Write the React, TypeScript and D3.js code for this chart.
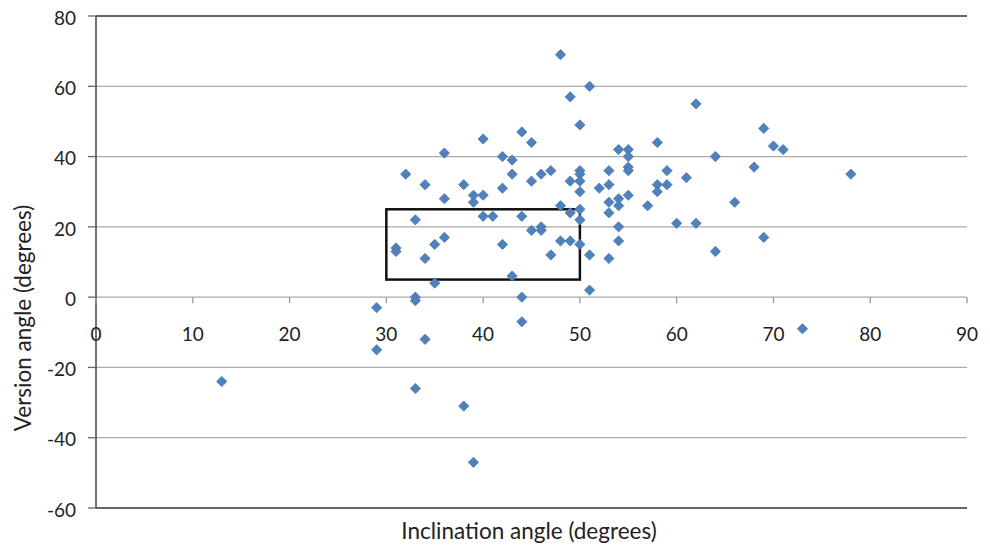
import React, { useEffect, useRef } from "react";
import * as d3 from "d3";

// inclination (x) / version (y) pairs, degrees
const inclination = [
  13, 29, 29, 31, 31, 32, 33, 33, 33, 33, 34, 34, 34, 35, 35, 36, 36, 36, 38, 38,
  39, 39, 39, 40, 40, 40, 41, 42, 42, 42, 43, 43, 43, 44, 44, 44, 44, 45, 45, 45,
  46, 46, 46, 47, 47, 48, 48, 48, 49, 49, 49, 49, 50, 50, 50, 50, 50, 50, 50, 50,
  51, 51, 51, 52, 53, 53, 53, 53, 53, 54, 54, 54, 54, 54, 55, 55, 55, 55, 55, 57,
  58, 58, 58, 59, 59, 60, 61, 62, 62, 64, 64, 66, 68, 69, 69, 70, 71, 73, 78,
];
const version = [
  -24, -3, -15, 14, 13, 35, 22, 0, -1, -26, 32, 11, -12, 15, 4, 41, 28, 17, 32, -31,
  29, 27, -47, 45, 29, 23, 23, 40, 31, 15, 39, 35, 6, 47, 23, 0, -7, 44, 33, 19,
  35, 20, 19, 36, 12, 69, 26, 16, 57, 33, 24, 16, 49, 36, 35, 33, 30, 25, 22, 15,
  60, 12, 2, 31, 36, 32, 27, 24, 11, 42, 28, 26, 20, 16, 42, 40, 37, 36, 29, 26,
  44, 32, 30, 36, 32, 21, 34, 55, 21, 40, 13, 27, 37, 48, 17, 43, 42, -9, 35,
];
const xTicks = [0, 10, 20, 30, 40, 50, 60, 70, 80, 90];
const yTicks = [80, 60, 40, 20, 0, -20, -40, -60];
// highlighted region: inclination 30-50, version 5-25
const boxX = [30, 50];
const boxY = [5, 25];

const W = 990;
const H = 547;
const FONT = "Lato, 'Open Sans', sans-serif";

export default function App() {
  const ref = useRef<SVGSVGElement>(null);

  useEffect(() => {
    const svg = d3.select(ref.current);
    svg.selectAll("*").remove();

    const x = d3.scaleLinear().domain([0, 90]).range([96, 967]);
    const y = d3.scaleLinear().domain([-60, 80]).range([508, 16]);

    // gridlines
    svg
      .append("g")
      .selectAll("line")
      .data(yTicks)
      .enter()
      .append("line")
      .attr("x1", x(0))
      .attr("x2", x(90))
      .attr("y1", (d) => y(d))
      .attr("y2", (d) => y(d))
      .attr("stroke", (d) => (d === 80 || d === -60 ? "#333" : "#aaa"))
      .attr("stroke-width", (d) => (d === 80 || d === -60 ? 1.6 : 1.3));

    // y axis
    const yAxis = svg.append("g");
    yAxis
      .append("line")
      .attr("x1", x(0))
      .attr("x2", x(0))
      .attr("y1", y(80))
      .attr("y2", y(-60))
      .attr("stroke", "#444")
      .attr("stroke-width", 1.5);
    yAxis
      .selectAll("line.tick")
      .data(yTicks)
      .enter()
      .append("line")
      .attr("class", "tick")
      .attr("x1", x(0) - 8)
      .attr("x2", x(0))
      .attr("y1", (d) => y(d))
      .attr("y2", (d) => y(d))
      .attr("stroke", "#666")
      .attr("stroke-width", 1.3);
    yAxis
      .selectAll("text")
      .data(yTicks)
      .enter()
      .append("text")
      .attr("x", 76)
      .attr("y", (d) => y(d) + 2)
      .attr("dy", "0.35em")
      .attr("text-anchor", "end")
      .attr("font-family", FONT)
      .attr("font-size", 19)
      .attr("fill", "#222")
      .text((d) => d);

    // x axis at version 0
    const xAxis = svg.append("g");
    xAxis
      .selectAll("line")
      .data(xTicks)
      .enter()
      .append("line")
      .attr("x1", (d) => x(d))
      .attr("x2", (d) => x(d))
      .attr("y1", y(0))
      .attr("y2", y(0) + 6)
      .attr("stroke", "#999")
      .attr("stroke-width", 1.3);
    xAxis
      .selectAll("text")
      .data(xTicks)
      .enter()
      .append("text")
      .attr("x", (d) => x(d))
      .attr("y", 334)
      .attr("dy", "0.35em")
      .attr("text-anchor", "middle")
      .attr("font-family", FONT)
      .attr("font-size", 19)
      .attr("fill", "#222")
      .text((d) => d);

    // box
    svg
      .append("rect")
      .attr("x", x(boxX[0]))
      .attr("y", y(boxY[1]))
      .attr("width", x(boxX[1]) - x(boxX[0]))
      .attr("height", y(boxY[0]) - y(boxY[1]))
      .attr("fill", "none")
      .attr("stroke", "#111")
      .attr("stroke-width", 2.5);

    // points
    const diamond = d3.symbol(d3.symbolSquare, 52);
    svg
      .append("g")
      .selectAll("path")
      .data(inclination.map((v, i) => [v, version[i]]))
      .enter()
      .append("path")
      .attr("d", diamond)
      .attr("transform", (d) => `translate(${x(d[0])},${y(d[1])}) rotate(45)`)
      .attr("fill", "#4f81bd")
      .attr("stroke", "#4a78b0")
      .attr("stroke-width", 0.8);

    // titles
    svg
      .append("text")
      .attr("x", 529)
      .attr("y", 531)
      .attr("dy", "0.35em")
      .attr("text-anchor", "middle")
      .attr("font-family", FONT)
      .attr("font-size", 22.5)
      .attr("fill", "#222")
      .text("Inclination angle (degrees)");
    svg
      .append("text")
      .attr("transform", "translate(23,318) rotate(-90)")
      .attr("dy", "0.35em")
      .attr("text-anchor", "middle")
      .attr("font-family", FONT)
      .attr("font-size", 22.5)
      .attr("fill", "#222")
      .text("Version angle (degrees)");
  }, []);

  return (
    <svg
      ref={ref}
      width={W}
      height={H}
      style={{ position: "absolute", left: 0, top: 0, background: "#fff" }}
    />
  );
}
